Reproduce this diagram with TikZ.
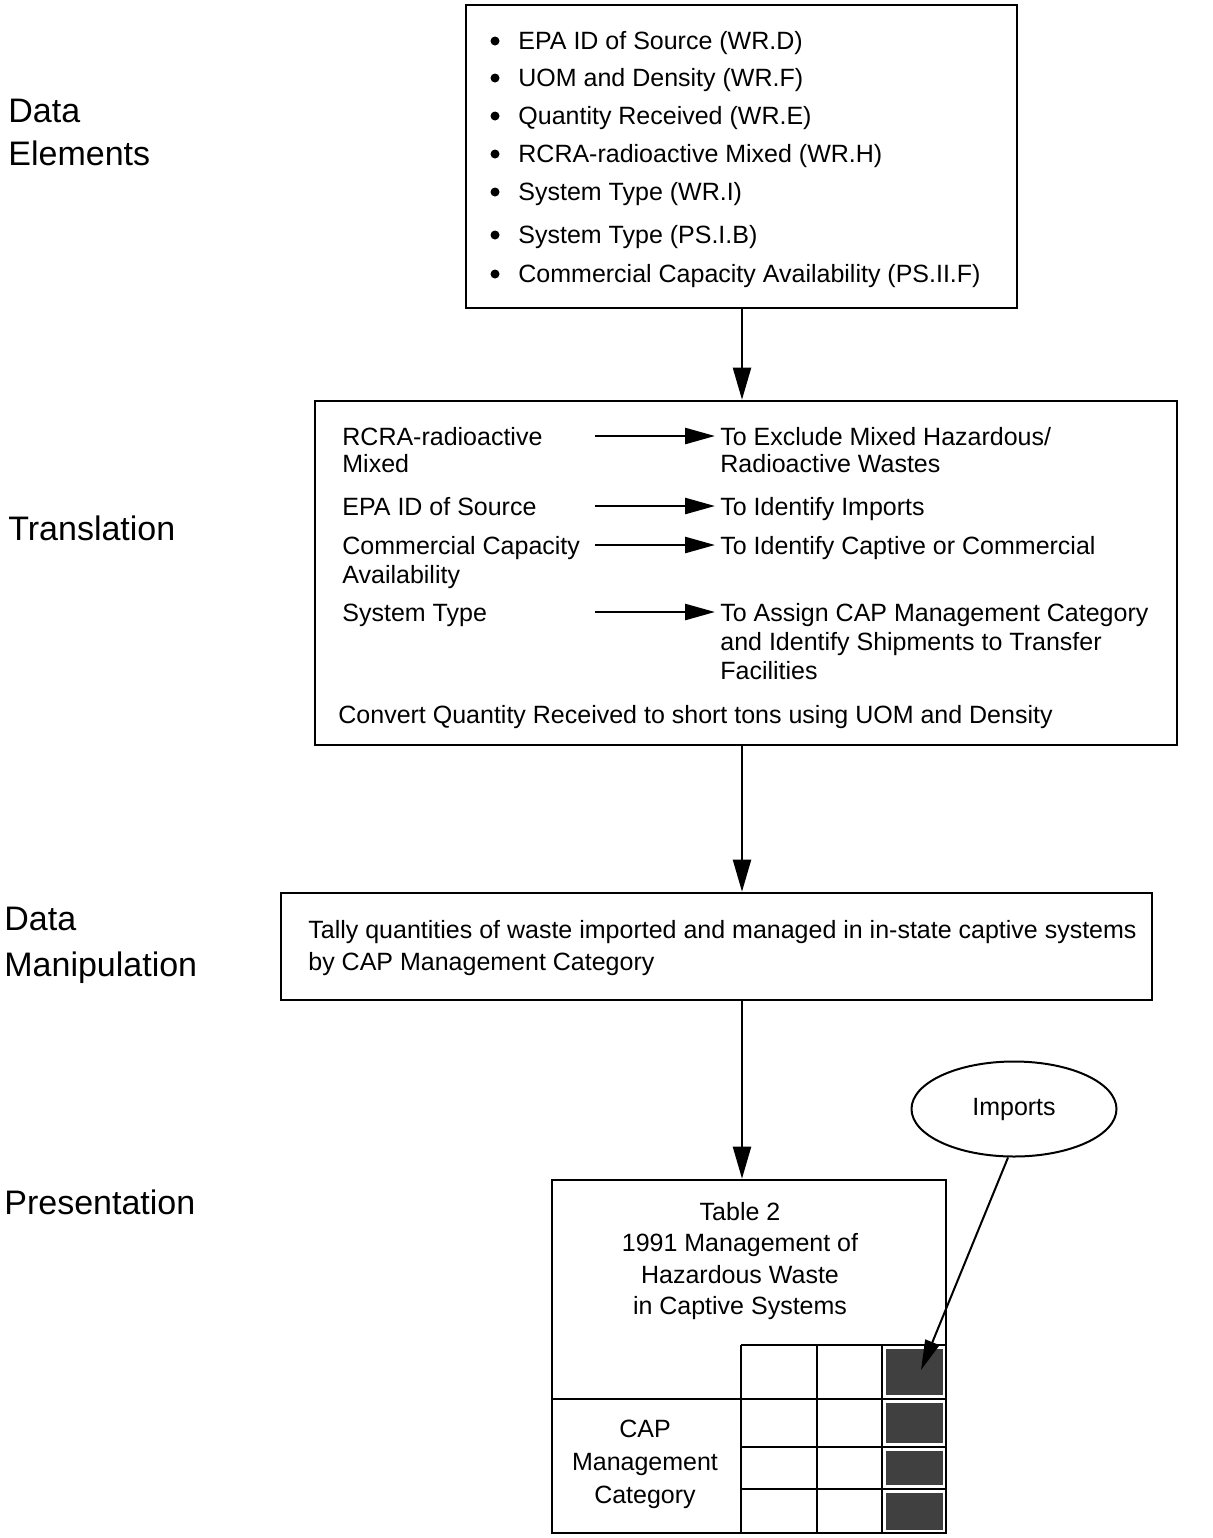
\documentclass[tikz,border=0pt]{standalone}
\usepackage{fontspec}
\setmainfont{Liberation Sans}
\usetikzlibrary{arrows.meta,fit,shapes.geometric}
\begin{document}
\begin{tikzpicture}[x=0.5pt,y=-0.5pt,
  box/.style={draw, line width=1.3pt, inner sep=0pt},
  body/.style={font=\fontsize{12.5}{15}\selectfont, inner sep=0pt, anchor=base west},
  cbody/.style={font=\fontsize{12.5}{15}\selectfont, inner sep=0pt, anchor=base},
  lab/.style={font=\fontsize{17}{20}\selectfont, inner sep=0pt, anchor=base west},
  mainarr/.style={line width=1.1pt, -{Triangle[length=16pt,width=9pt]}},
  smallarr/.style={line width=1.3pt, shorten >=2.5pt, -{Triangle[length=15pt,width=8pt]}},
  gridline/.style={line width=1.1pt},
  shade/.style={fill=black!75}
]
\useasboundingbox (0,0) rectangle (1213,1538);

% left labels
\node[lab] (l1a) at (8,122) {Data};
\node[lab] (l1b) at (8,165) {Elements};
\node[lab] (l2) at (8,540) {Translation};
\node[lab] (l3a) at (4,930) {Data};
\node[lab] (l3b) at (4,976) {Manipulation};
\node[lab] (l4) at (4,1214) {Presentation};

% box 1
\coordinate (b1tl) at (466,5);
\coordinate (b1br) at (1017,308);
\node[box, fit=(b1tl)(b1br)] (b1) {};
\foreach \y/\t [count=\i] in {40/{EPA ID of Source (WR.D)},77/{UOM and Density (WR.F)},115/{Quantity Received (WR.E)},153/{RCRA-radioactive Mixed (WR.H)},191/{System Type (WR.I)},234/{System Type (PS.I.B)},273/{Commercial Capacity Availability (PS.II.F)}}{
  \fill (495,\y+1) circle (4.5);
  \node[body] (e\i) at (518,\y+9) {\t};
}

% box 2
\coordinate (b2tl) at (315,401);
\coordinate (b2br) at (1177,745);
\node[box, fit=(b2tl)(b2br)] (b2) {};
\node[body] (t1a) at (342,445) {RCRA-radioactive};
\node[body] (t1b) at (342,472) {Mixed};
\node[body] (t2) at (342,515) {EPA ID of Source};
\node[body] (t3a) at (342,554) {Commercial Capacity};
\node[body] (t3b) at (342,583) {Availability};
\node[body] (t4) at (342,621) {System Type};
\node[body] (r1a) at (720,445) {To Exclude Mixed Hazardous/};
\node[body] (r1b) at (720,472) {Radioactive Wastes};
\node[body] (r2) at (720,515) {To Identify Imports};
\node[body] (r3) at (720,554) {To Identify Captive or Commercial};
\node[body] (r4a) at (720,621) {To Assign CAP Management Category};
\node[body] (r4b) at (720,650) {and Identify Shipments to Transfer};
\node[body] (r4c) at (720,679) {Facilities};
\node[body] (cv) at (338,723) {Convert Quantity Received to short tons using UOM and Density};
\coordinate (s1) at (595,436);
\coordinate (s2) at (595,506);
\coordinate (s3) at (595,545);
\coordinate (s4) at (595,612);
\draw[smallarr] (s1) -- (s1 -| r1a.west);
\draw[smallarr] (s2) -- (s2 -| r2.west);
\draw[smallarr] (s3) -- (s3 -| r3.west);
\draw[smallarr] (s4) -- (s4 -| r4a.west);

% box 3
\coordinate (b3tl) at (281,893);
\coordinate (b3br) at (1152,1000);
\node[box, fit=(b3tl)(b3br)] (b3) {};
\node[body] (m1) at (308,938) {Tally quantities of waste imported and managed in in-state captive systems};
\node[body] (m2) at (308,970) {by CAP Management Category};

% box 4 (table)
\coordinate (b4tl) at (552,1180);
\coordinate (b4br) at (946,1533);
\node[box, fit=(b4tl)(b4br)] (b4) {};
\node[cbody] (p1) at (740,1220) {Table 2};
\node[cbody] (p2) at (740,1251) {1991 Management of};
\node[cbody] (p3) at (740,1283) {Hazardous Waste};
\node[cbody] (p4) at (740,1314) {in Captive Systems};
\node[cbody] (q1) at (645,1437) {CAP};
\node[cbody] (q2) at (645,1470) {Management};
\node[cbody] (q3) at (645,1503) {Category};

% grid
\fill[shade] (886,1349) rectangle (943,1395);
\fill[shade] (886,1403) rectangle (943,1443);
\fill[shade] (886,1451) rectangle (943,1485);
\fill[shade] (886,1493) rectangle (943,1530);
\draw[gridline] (552,1399) -- (946,1399);
\draw[gridline] (741,1345) -- (946,1345);
\draw[gridline] (741,1447) -- (946,1447);
\draw[gridline] (741,1489) -- (946,1489);
\draw[gridline] (741,1345) -- (741,1533);
\draw[gridline] (817,1345) -- (817,1533);
\draw[gridline] (882,1345) -- (882,1533);

% imports ellipse
\node[ellipse, draw, line width=1pt, minimum width=102.5pt, minimum height=47.5pt, inner sep=0pt] (imp) at (1014,1109) {};
\node[cbody] (impt) at (1014,1115) {Imports};
\coordinate (tgt) at (921,1370);
\draw[line width=1pt, -{Triangle[length=15pt,width=7.5pt]}] (imp.263) -- (tgt);

% main arrows
\coordinate (ax) at (742,0);
\draw[mainarr] (b1.south -| ax) -- (b2.north -| ax);
\draw[mainarr] (b2.south -| ax) -- (b3.north -| ax);
\draw[mainarr] (b3.south -| ax) -- (b4.north -| ax);
\end{tikzpicture}
\end{document}
